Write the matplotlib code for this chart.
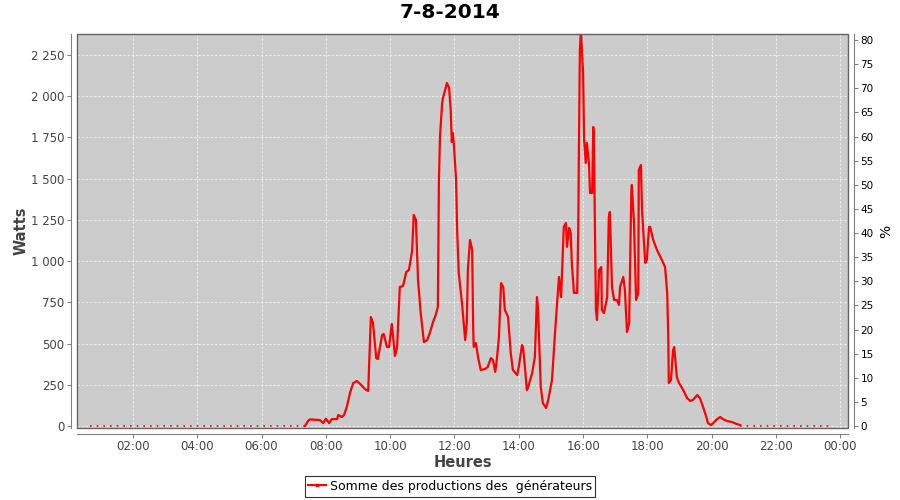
import matplotlib
matplotlib.use("Agg")
import matplotlib.pyplot as plt
from matplotlib.ticker import FuncFormatter, MultipleLocator
from matplotlib.lines import Line2D
import numpy as np

# readings of the day (HH:MM, watts)
times = ["07:21", "07:27", "07:30", "07:49", "07:55", "08:00", "08:06", "08:11", "08:21", "08:23",
         "08:30", "08:34", "08:39", "08:45", "08:51", "08:58", "09:04", "09:13", "09:19", "09:24",
         "09:28", "09:34", "09:37", "09:45", "09:48", "09:54", "09:58", "10:03", "10:09", "10:13",
         "10:18", "10:24", "10:30", "10:35", "10:41", "10:44", "10:48", "10:52", "10:57", "11:03",
         "11:09", "11:14", "11:20", "11:25", "11:29", "11:31", "11:33", "11:37", "11:39", "11:42",
         "11:46", "11:50", "11:53", "11:55", "11:57", "11:59", "12:03", "12:05", "12:08", "12:14",
         "12:20", "12:23", "12:25", "12:29", "12:33", "12:35", "12:36", "12:40", "12:44", "12:49",
         "12:57", "13:02", "13:08", "13:12", "13:16", "13:19", "13:23", "13:27", "13:31", "13:34",
         "13:40", "13:45", "13:49", "13:57", "14:00", "14:06", "14:08", "14:12", "14:15", "14:17",
         "14:25", "14:30", "14:34", "14:36", "14:41", "14:45", "14:51", "14:55", "15:02", "15:08",
         "15:11", "15:15", "15:19", "15:24", "15:28", "15:30", "15:34", "15:37", "15:39", "15:43",
         "15:49", "15:51", "15:52", "15:54", "15:56", "16:00", "16:02", "16:05", "16:07", "16:11",
         "16:13", "16:17", "16:19", "16:20", "16:24", "16:26", "16:30", "16:34", "16:35", "16:39",
         "16:45", "16:48", "16:50", "16:54", "16:58", "17:03", "17:07", "17:09", "17:15", "17:18",
         "17:22", "17:26", "17:30", "17:31", "17:35", "17:39", "17:43", "17:44", "17:48", "17:50",
         "17:56", "17:59", "18:03", "18:05", "18:11", "18:18", "18:27", "18:33", "18:37", "18:39",
         "18:40", "18:44", "18:48", "18:50", "18:55", "18:59", "19:07", "19:14", "19:20", "19:25",
         "19:33", "19:38", "19:44", "19:50", "19:53", "19:59", "20:03", "20:10", "20:16", "20:21",
         "20:29", "20:38", "20:47", "20:53"]
watts = [0, 32, 40, 36, 18, 44, 18, 42, 42, 67,
         55, 67, 115, 200, 260, 273, 255, 224, 212, 661,
         625, 412, 406, 552, 558, 479, 479, 619, 425, 479,
         843, 849, 934, 946, 1061, 1280, 1250, 885, 685, 509,
         521, 564, 631, 673, 722, 1492, 1753, 1959, 1995, 2030,
         2080, 2050, 1916, 1722, 1777, 1704, 1492, 1189, 928, 746,
         521, 625, 946, 1128, 1067, 582, 479, 503, 418, 340,
         346, 358, 412, 400, 328, 400, 540, 867, 843, 704,
         661, 443, 340, 309, 358, 491, 479, 340, 218, 230,
         321, 418, 782, 704, 237, 139, 109, 158, 279, 582,
         722, 904, 782, 1207, 1231, 1086, 1201, 1170, 989, 807,
         807, 1189, 1595, 2280, 2400, 2141, 1735, 1595, 1716, 1595,
         1413, 1413, 1813, 1777, 704, 643, 946, 964, 704, 685,
         782, 1268, 1298, 843, 764, 764, 734, 843, 904, 825,
         570, 625, 1413, 1462, 1231, 764, 807, 1553, 1583, 1310,
         989, 1007, 1207, 1207, 1128, 1067, 1007, 964, 807, 540,
         261, 279, 461, 479, 297, 261, 218, 170, 152, 158,
         188, 170, 115, 55, 18, 6, 18, 42, 55, 42,
         30, 24, 12, 6]

night_am = ["00:40", "07:21"]
night_pm = ["20:53", "23:46"]
watts_max = 2377.0   # 81.25 % on the right scale
pct_max = 81.25
label = "Somme des productions des  générateurs"


def to_hours(lst):
    return np.array([int(s[:2]) + int(s[3:]) / 60 for s in lst])


t = to_hours(times)
w = np.array(watts)

fig = plt.figure(figsize=(9, 5), dpi=100)
ax = fig.add_axes([77 / 900, 72 / 500, 771 / 900, 394 / 500])
ax.set_facecolor("#cccccc")

ax.plot(to_hours(night_am), [0, 0], color="red", lw=1.2, ls=(0, (1, 3)))
ax.plot(to_hours(night_pm), [0, 0], color="red", lw=1.2, ls=(0, (1, 3)))
ax.plot(t, w, color="red", lw=1.6)

ax.set_xlim(0.26, 24.24)
ax.set_ylim(-12, watts_max)
ax.xaxis.set_major_locator(MultipleLocator(2))
ax.xaxis.set_major_formatter(FuncFormatter(lambda v, p: "%02d:00" % (int(round(v)) % 24)))
ax.yaxis.set_major_locator(MultipleLocator(250))
ax.yaxis.set_major_formatter(FuncFormatter(lambda v, p: "{:,}".format(int(v)).replace(",", " ")))
ax.grid(True, color="#f2f2f2", ls=(0, (3, 2)), lw=0.6)

for s in ["left", "bottom"]:
    ax.spines[s].set_position(("outward", 4))
    ax.spines[s].set_color("#808080")
ax.spines["top"].set_color("#666666")
ax.spines["right"].set_visible(False)
ax.tick_params(colors="#808080", labelcolor="#444444", labelsize=8.5, length=3, pad=2)

ax.set_xlabel("Heures", fontsize=10.5, fontweight="bold", color="#444444", labelpad=1)
ax.set_ylabel("Watts", fontsize=10.5, fontweight="bold", color="#444444", labelpad=2)

ax2 = ax.twinx()
ax2.set_ylim(-12 / watts_max * pct_max, pct_max)
ax2.yaxis.set_major_locator(MultipleLocator(5))
for s in ["left", "top", "bottom"]:
    ax2.spines[s].set_visible(False)
ax2.spines["right"].set_position(("outward", 4))
ax2.spines["right"].set_color("#808080")
ax2.tick_params(colors="#808080", labelcolor="black", labelsize=7.5, length=3, pad=2)
ax2.set_ylabel("%", fontsize=10, color="black", labelpad=4)

# frame of the plotting area
ax.add_patch(plt.Rectangle((0, 0), 1, 1, transform=ax.transAxes, fill=False,
                           ec="#666666", lw=1, zorder=5, clip_on=False))

fig.suptitle("7-8-2014", fontsize=14.5, fontweight="bold", y=0.995)

handle = Line2D([], [], color="red", lw=1.6, marker="s", ms=1.5, markevery=[1])
leg = fig.legend([handle], [label], loc="lower center", bbox_to_anchor=(0.5, 0.002),
                 fontsize=9, frameon=True, fancybox=False, edgecolor="black",
                 handlelength=1.4, handletextpad=0.3, borderpad=0.3, borderaxespad=0.2)
leg.get_frame().set_linewidth(0.8)

fig.savefig("out.png", dpi=100)
